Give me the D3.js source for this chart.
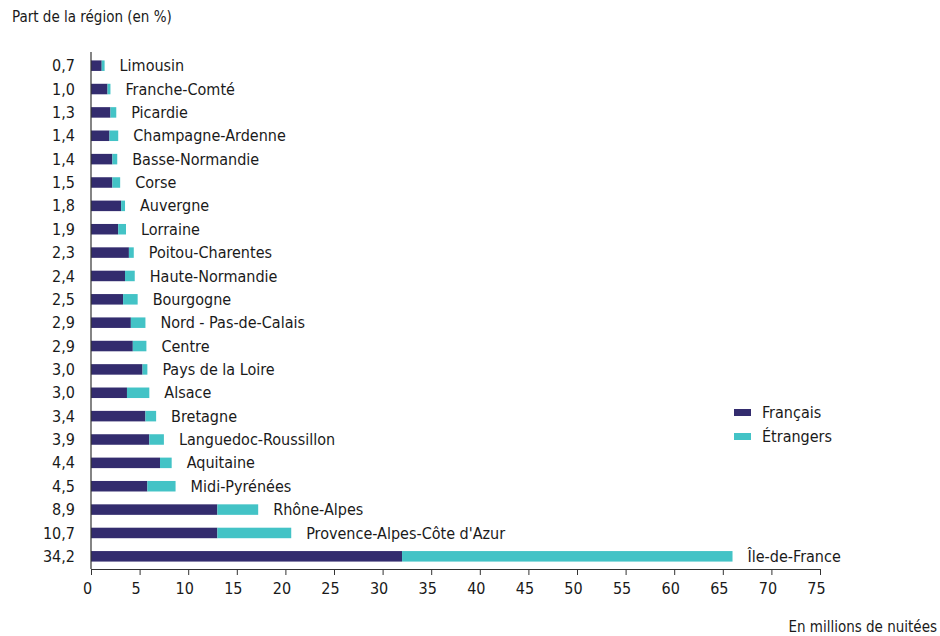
<!DOCTYPE html>
<html>
<head>
<meta charset="utf-8">
<script src="https://cdn.jsdelivr.net/npm/d3@7"></script>
<style>
  body { margin: 0; background: #fff; }
  text { font-family: "Liberation Sans Narrow", "DejaVu Sans Condensed", sans-serif; fill: #1a1a1a; }
</style>
</head>
<body>
<div id="chart"></div>
<script>
// regions, top to bottom
const regions = ["Limousin", "Franche-Comté", "Picardie", "Champagne-Ardenne", "Basse-Normandie",
  "Corse", "Auvergne", "Lorraine", "Poitou-Charentes", "Haute-Normandie", "Bourgogne",
  "Nord - Pas-de-Calais", "Centre", "Pays de la Loire", "Alsace", "Bretagne",
  "Languedoc-Roussillon", "Aquitaine", "Midi-Pyrénées", "Rhône-Alpes",
  "Provence-Alpes-Côte d'Azur", "Île-de-France"];
const parts = ["0,7", "1,0", "1,3", "1,4", "1,4", "1,5", "1,8", "1,9", "2,3", "2,4", "2,5",
  "2,9", "2,9", "3,0", "3,0", "3,4", "3,9", "4,4", "4,5", "8,9", "10,7", "34,2"];
// millions de nuitées
const francais = [1.1, 1.7, 2.0, 1.9, 2.2, 2.2, 3.1, 2.8, 3.9, 3.5, 3.3, 4.1, 4.3, 5.3, 3.7,
  5.6, 6.0, 7.1, 5.8, 13.0, 13.0, 32.0];
const etrangers = [0.3, 0.3, 0.6, 0.9, 0.5, 0.8, 0.4, 0.8, 0.5, 1.0, 1.5, 1.5, 1.4, 0.5, 2.3,
  1.1, 1.5, 1.2, 2.9, 4.2, 7.6, 34.0];
const xTicks = d3.range(0, 80, 5);

const width = 940, height = 636;
const colors = { fr: "#332c6e", et: "#43c3c6" };

const svg = d3.select("#chart").append("svg")
  .attr("width", width).attr("height", height);

const x = d3.scaleLinear().domain([0, 75]).range([91, 820]);
const y = d3.scaleBand().domain(regions).range([54, 568]).paddingInner(0.55).paddingOuter(0.275);

const rows = svg.append("g").selectAll("g")
  .data(regions.map((r, i) => ({ r, p: parts[i], f: francais[i], e: etrangers[i] })))
  .join("g");

rows.append("rect")
  .attr("x", x(0))
  .attr("y", d => y(d.r))
  .attr("width", d => x(d.f) - x(0))
  .attr("height", y.bandwidth())
  .attr("fill", colors.fr);

rows.append("rect")
  .attr("x", d => x(d.f))
  .attr("y", d => y(d.r))
  .attr("width", d => x(d.f + d.e) - x(d.f))
  .attr("height", y.bandwidth())
  .attr("fill", colors.et);

rows.append("text")
  .attr("x", d => x(d.f + d.e) + 15)
  .attr("y", d => y(d.r) + y.bandwidth() / 2)
  .attr("dy", "0.35em")
  .style("font-size", "16px")
  .text(d => d.r);

rows.append("text")
  .attr("x", 75)
  .attr("y", d => y(d.r) + y.bandwidth() / 2)
  .attr("dy", "0.35em")
  .attr("text-anchor", "end")
  .style("font-size", "16px")
  .text(d => d.p);

// axe vertical
svg.append("line")
  .attr("x1", x(0)).attr("x2", x(0))
  .attr("y1", 52).attr("y2", 569)
  .attr("stroke", "#333").attr("stroke-width", 1.2);

// axe horizontal
const xAxis = svg.append("g")
  .attr("transform", "translate(0,569)")
  .call(d3.axisBottom(x).tickValues(xTicks).tickSize(6).tickSizeOuter(0).tickPadding(8));
xAxis.select(".domain").attr("stroke", "#333").attr("stroke-width", 1.2);
xAxis.selectAll(".tick line").attr("stroke", "#333");
xAxis.selectAll(".tick text")
  .attr("dx", -4)
  .style("font-size", "16px")
  .style("font-family", "\"Liberation Sans Narrow\", \"DejaVu Sans Condensed\", sans-serif")
  .attr("fill", "#1a1a1a");

svg.append("text")
  .attr("x", 12).attr("y", 22)
  .style("font-size", "15px")
  .text("Part de la région (en %)");

svg.append("text")
  .attr("x", 937).attr("y", 632)
  .attr("text-anchor", "end")
  .style("font-size", "15px")
  .text("En millions de nuitées");

// légende
const legend = svg.append("g").attr("transform", "translate(734,412)");
[["Français", colors.fr], ["Étrangers", colors.et]].forEach(([lab, c], i) => {
  legend.append("rect").attr("x", 0).attr("y", i * 24 - 3).attr("width", 17).attr("height", 7).attr("fill", c);
  legend.append("text").attr("x", 28).attr("y", i * 24).attr("dy", "0.35em")
    .style("font-size", "16px").text(lab);
});
</script>
</body>
</html>
